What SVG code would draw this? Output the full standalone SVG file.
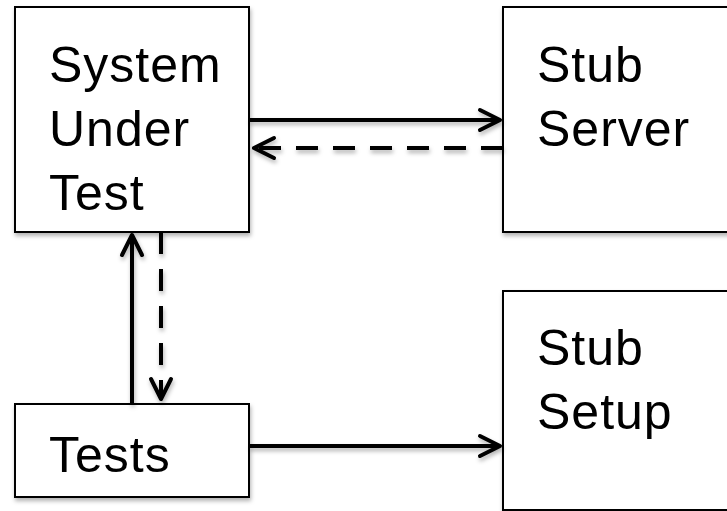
<svg xmlns="http://www.w3.org/2000/svg" width="727" height="511" viewBox="0 0 727 511">
  <style>
    .box { fill: #ffffff; stroke: #000000; stroke-width: 2; }
    .lbl { font-family: "Liberation Sans", Arial, Helvetica, sans-serif; font-size: 50px; letter-spacing: 1px; fill: #000000; }
    .conn { fill: none; stroke: #000000; stroke-width: 4; }
    .dash { stroke-dasharray: 22 15; }
  </style>
  <defs>
    <filter id="sh" x="-10%" y="-10%" width="130%" height="130%">
      <feDropShadow dx="1" dy="3" stdDeviation="2" flood-color="#000000" flood-opacity="0.3"/>
    </filter>
    <marker id="arrow" markerUnits="userSpaceOnUse" viewBox="-26 -14 30 28" refX="0" refY="0" markerWidth="30" markerHeight="28" orient="auto" overflow="visible">
      <path d="M-20,-10 L0,0 L-20,10" fill="none" stroke="#000000" stroke-width="4" stroke-linecap="round" stroke-linejoin="round"/>
    </marker>
  </defs>
  <rect width="727" height="511" fill="#ffffff"/>

  <g id="sut" filter="url(#sh)">
    <rect class="box" x="15" y="7" width="234" height="225"/>
    <text class="lbl" x="49" y="82">System</text>
    <text class="lbl" x="49" y="146">Under</text>
    <text class="lbl" x="49" y="210">Test</text>
  </g>

  <g id="stub-server" filter="url(#sh)">
    <rect class="box" x="503" y="7" width="240" height="225"/>
    <text class="lbl" x="537" y="82">Stub</text>
    <text class="lbl" x="537" y="146">Server</text>
  </g>

  <g id="tests" filter="url(#sh)">
    <rect class="box" x="15" y="404" width="234" height="93"/>
    <text class="lbl" x="49" y="472">Tests</text>
  </g>

  <g id="stub-setup" filter="url(#sh)">
    <rect class="box" x="503" y="291" width="240" height="219"/>
    <text class="lbl" x="537" y="365">Stub</text>
    <text class="lbl" x="537" y="429">Setup</text>
  </g>

  <g id="connectors" filter="url(#sh)">
    <path class="conn" d="M249,120 L500,120" marker-end="url(#arrow)"/>
    <path class="conn dash" d="M503,148 L254,148" marker-end="url(#arrow)"/>
    <path class="conn" d="M132,404 L132,235" marker-end="url(#arrow)"/>
    <path class="conn dash" d="M161,232 L161,399" marker-end="url(#arrow)"/>
    <path class="conn" d="M249,446 L500,446" marker-end="url(#arrow)"/>
  </g>
</svg>
